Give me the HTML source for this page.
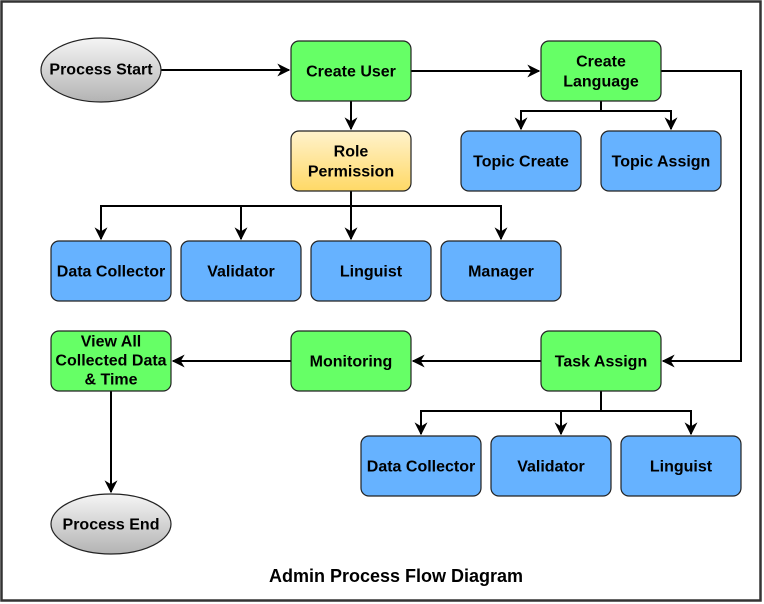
<!DOCTYPE html>
<html><head><meta charset="utf-8"><style>
html,body{margin:0;padding:0;background:#fff}
svg{display:block}
text{font-family:"Liberation Sans",Arial,sans-serif;font-weight:bold;font-size:16px;fill:#000;text-anchor:middle;dominant-baseline:central}
</style></head><body>
<svg width="764" height="604" viewBox="0 0 764 604" xmlns="http://www.w3.org/2000/svg">
<defs>
<linearGradient id="gy" x1="0" y1="0" x2="0" y2="1"><stop offset="0" stop-color="#fff2cc"/><stop offset="1" stop-color="#ffd966"/></linearGradient>
<linearGradient id="gg" x1="0" y1="0" x2="0" y2="1"><stop offset="0" stop-color="#f5f5f5"/><stop offset="1" stop-color="#b3b3b3"/></linearGradient>
<marker id="a" viewBox="0 0 10 10" refX="9" refY="5" markerWidth="6.5" markerHeight="6.5" orient="auto" markerUnits="strokeWidth"><path d="M0,0 L10,5 L0,10 L3,5 z" fill="#000"/></marker>
</defs>
<rect x="1.5" y="1.5" width="759" height="599" fill="#fff" stroke="#333" stroke-width="2.5"/>
<g fill="none" stroke="#000" stroke-width="2">
<path d="M161,70 H289" marker-end="url(#a)"/>
<path d="M411,71 H539" marker-end="url(#a)"/>
<path d="M661,71 H741 V361 H663" marker-end="url(#a)"/>
<path d="M351,101 V129" marker-end="url(#a)"/>
<path d="M601,101 V111 H521 V129" marker-end="url(#a)"/>
<path d="M601,111 H671 V129" marker-end="url(#a)"/>
<path d="M351,191 V239" marker-end="url(#a)"/>
<path d="M351,206 H101 V239" marker-end="url(#a)"/>
<path d="M241,206 V239" marker-end="url(#a)"/>
<path d="M351,206 H501 V239" marker-end="url(#a)"/>
<path d="M541,361 H413" marker-end="url(#a)"/>
<path d="M291,361 H173" marker-end="url(#a)"/>
<path d="M111,391 V492" marker-end="url(#a)"/>
<path d="M601,391 V411 H421 V434" marker-end="url(#a)"/>
<path d="M561,411 V434" marker-end="url(#a)"/>
<path d="M601,411 H691 V434" marker-end="url(#a)"/>
</g>
<g stroke="#222" stroke-width="1.2">
<ellipse cx="101" cy="70" rx="60" ry="32" fill="url(#gg)"/>
<ellipse cx="111" cy="524" rx="60" ry="30" fill="url(#gg)"/>
<rect x="291" y="41" width="120" height="60" rx="8" fill="#66ff66"/>
<rect x="541" y="41" width="120" height="60" rx="8" fill="#66ff66"/>
<rect x="291" y="131" width="120" height="60" rx="8" fill="url(#gy)"/>
<rect x="461" y="131" width="120" height="60" rx="8" fill="#66b2ff"/>
<rect x="601" y="131" width="120" height="60" rx="8" fill="#66b2ff"/>
<rect x="51" y="241" width="120" height="60" rx="8" fill="#66b2ff"/>
<rect x="181" y="241" width="120" height="60" rx="8" fill="#66b2ff"/>
<rect x="311" y="241" width="120" height="60" rx="8" fill="#66b2ff"/>
<rect x="441" y="241" width="120" height="60" rx="8" fill="#66b2ff"/>
<rect x="51" y="331" width="120" height="60" rx="8" fill="#66ff66"/>
<rect x="291" y="331" width="120" height="60" rx="8" fill="#66ff66"/>
<rect x="541" y="331" width="120" height="60" rx="8" fill="#66ff66"/>
<rect x="361" y="436" width="120" height="60" rx="8" fill="#66b2ff"/>
<rect x="491" y="436" width="120" height="60" rx="8" fill="#66b2ff"/>
<rect x="621" y="436" width="120" height="60" rx="8" fill="#66b2ff"/>
</g>
<text x="101" y="70">Process Start</text>
<text x="111" y="525">Process End</text>
<text x="351" y="72">Create User</text>
<text x="601" y="62">Create</text><text x="601" y="82">Language</text>
<text x="351" y="152">Role</text><text x="351" y="172">Permission</text>
<text x="521" y="162">Topic Create</text>
<text x="661" y="162">Topic Assign</text>
<text x="111" y="272">Data Collector</text>
<text x="241" y="272">Validator</text>
<text x="371" y="272">Linguist</text>
<text x="501" y="272">Manager</text>
<text x="111" y="342">View All</text><text x="111" y="361">Collected Data</text><text x="111" y="380">&amp; Time</text>
<text x="351" y="362">Monitoring</text>
<text x="601" y="362">Task Assign</text>
<text x="421" y="467">Data Collector</text>
<text x="551" y="467">Validator</text>
<text x="681" y="467">Linguist</text>
<text x="396" y="576" style="font-size:18px">Admin Process Flow Diagram</text>
</svg>
</body></html>
